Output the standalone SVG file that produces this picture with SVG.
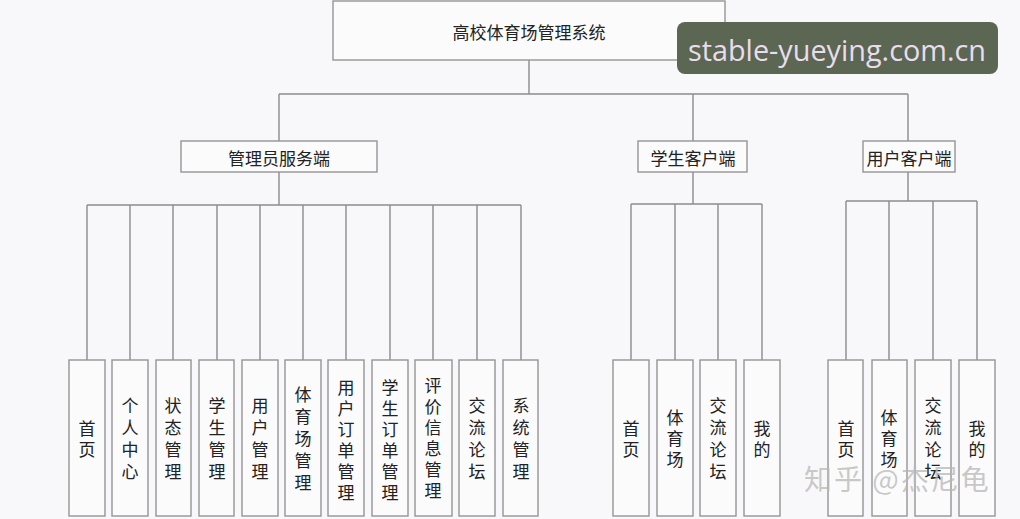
<svg xmlns="http://www.w3.org/2000/svg" width="1020" height="519" viewBox="0 0 1020 519">
<style>
.bg{fill:#f8f8fa}
.box{fill:#fbfbfc;stroke:#959595;stroke-width:1.4}
.ln{stroke:#8c8c8c;stroke-width:1.4;fill:none}
.t{font-family:"Noto Sans CJK SC","Noto Sans",sans-serif;font-size:17px;fill:#222;text-anchor:middle;dominant-baseline:central}
.v{font-family:"Noto Sans CJK SC","Noto Sans",sans-serif;font-size:17px;fill:#222;text-anchor:middle;dominant-baseline:central}
.badge{fill:#5b6753}
.bt{font-family:"Open Sans","Noto Sans",sans-serif;font-size:28.8px;fill:#eadcec}
.wm{font-family:"Noto Sans CJK SC",sans-serif;font-size:28px;letter-spacing:2px;fill:#b8b8b8;fill-opacity:0.75}
</style>
<rect class="bg" x="0" y="0" width="1020" height="519"/>
<g id="connectors">
<path class="ln" d="M529 60V94M279 94H908M279 94V141M693 94V141M908 94V141"/>
<path class="ln" d="M279 172V205M87 205H521M87 205V360M130 205V360M173 205V360M217 205V360M260 205V360M303 205V360M346 205V360M390 205V360M433 205V360M477 205V360M521 205V360"/>
<path class="ln" d="M693 172V204M631 204H762M631 204V360M675 204V360M718 204V360M762 204V360"/>
<path class="ln" d="M908 172V201M846 201H977M846 201V360M889 201V360M933 201V360M977 201V360"/>
</g>
<g id="root"><rect class="box" x="333" y="1" width="392" height="59"/><text class="t" x="529" y="31">高校体育场管理系统</text></g>
<g id="admin"><rect class="box" x="181" y="141" width="196" height="31"/><text class="t" x="279" y="157">管理员服务端</text></g>
<g id="student"><rect class="box" x="638" y="141" width="109" height="31"/><text class="t" x="693" y="157">学生客户端</text></g>
<g id="user"><rect class="box" x="863" y="141" width="92" height="31"/><text class="t" x="909" y="157">用户客户端</text></g>

<g id="a1"><rect class="box" x="69" y="360" width="36" height="156"/><text class="v"><tspan x="87" y="426.5">首</tspan><tspan x="87" y="448">页</tspan></text></g>
<g id="a2"><rect class="box" x="112" y="360" width="36" height="156"/><text class="v"><tspan x="130" y="404">个</tspan><tspan x="130" y="426">人</tspan><tspan x="130" y="448">中</tspan><tspan x="130" y="470">心</tspan></text></g>
<g id="a3"><rect class="box" x="156" y="360" width="35" height="156"/><text class="v"><tspan x="173" y="404">状</tspan><tspan x="173" y="426">态</tspan><tspan x="173" y="448">管</tspan><tspan x="173" y="470">理</tspan></text></g>
<g id="a4"><rect class="box" x="199" y="360" width="35" height="156"/><text class="v"><tspan x="217" y="404">学</tspan><tspan x="217" y="426">生</tspan><tspan x="217" y="448">管</tspan><tspan x="217" y="470">理</tspan></text></g>
<g id="a5"><rect class="box" x="242" y="360" width="36" height="156"/><text class="v"><tspan x="260" y="404">用</tspan><tspan x="260" y="426">户</tspan><tspan x="260" y="448">管</tspan><tspan x="260" y="470">理</tspan></text></g>
<g id="a6"><rect class="box" x="285" y="360" width="36" height="156"/><text class="v"><tspan x="303" y="393">体</tspan><tspan x="303" y="415">育</tspan><tspan x="303" y="437">场</tspan><tspan x="303" y="459">管</tspan><tspan x="303" y="481">理</tspan></text></g>
<g id="a7"><rect class="box" x="328" y="360" width="36" height="156"/><text class="v"><tspan x="346" y="386">用</tspan><tspan x="346" y="407">户</tspan><tspan x="346" y="428">订</tspan><tspan x="346" y="449">单</tspan><tspan x="346" y="470">管</tspan><tspan x="346" y="491">理</tspan></text></g>
<g id="a8"><rect class="box" x="372" y="360" width="36" height="156"/><text class="v"><tspan x="390" y="386">学</tspan><tspan x="390" y="407">生</tspan><tspan x="390" y="428">订</tspan><tspan x="390" y="449">单</tspan><tspan x="390" y="470">管</tspan><tspan x="390" y="491">理</tspan></text></g>
<g id="a9"><rect class="box" x="415" y="360" width="37" height="156"/><text class="v"><tspan x="433" y="384">评</tspan><tspan x="433" y="405">价</tspan><tspan x="433" y="426">信</tspan><tspan x="433" y="447">息</tspan><tspan x="433" y="468">管</tspan><tspan x="433" y="489">理</tspan></text></g>
<g id="a10"><rect class="box" x="459" y="360" width="36" height="156"/><text class="v"><tspan x="477" y="404">交</tspan><tspan x="477" y="426">流</tspan><tspan x="477" y="448">论</tspan><tspan x="477" y="470">坛</tspan></text></g>
<g id="a11"><rect class="box" x="503" y="360" width="35" height="156"/><text class="v"><tspan x="521" y="404">系</tspan><tspan x="521" y="426">统</tspan><tspan x="521" y="448">管</tspan><tspan x="521" y="470">理</tspan></text></g>

<g id="s1"><rect class="box" x="613" y="360" width="36" height="156"/><text class="v"><tspan x="631" y="426.5">首</tspan><tspan x="631" y="448">页</tspan></text></g>
<g id="s2"><rect class="box" x="657" y="360" width="36" height="156"/><text class="v"><tspan x="675" y="416">体</tspan><tspan x="675" y="437">育</tspan><tspan x="675" y="458">场</tspan></text></g>
<g id="s3"><rect class="box" x="700" y="360" width="36" height="156"/><text class="v"><tspan x="718" y="404">交</tspan><tspan x="718" y="426">流</tspan><tspan x="718" y="448">论</tspan><tspan x="718" y="470">坛</tspan></text></g>
<g id="s4"><rect class="box" x="744" y="360" width="36" height="156"/><text class="v"><tspan x="762" y="426.5">我</tspan><tspan x="762" y="448">的</tspan></text></g>

<g id="u1"><rect class="box" x="828" y="360" width="35" height="156"/><text class="v"><tspan x="846" y="426.5">首</tspan><tspan x="846" y="448">页</tspan></text></g>
<g id="u2"><rect class="box" x="872" y="360" width="35" height="156"/><text class="v"><tspan x="889" y="416">体</tspan><tspan x="889" y="437">育</tspan><tspan x="889" y="458">场</tspan></text></g>
<g id="u3"><rect class="box" x="915" y="360" width="36" height="156"/><text class="v"><tspan x="933" y="404">交</tspan><tspan x="933" y="426">流</tspan><tspan x="933" y="448">论</tspan><tspan x="933" y="470">坛</tspan></text></g>
<g id="u4"><rect class="box" x="959" y="360" width="36" height="156"/><text class="v"><tspan x="977" y="426.5">我</tspan><tspan x="977" y="448">的</tspan></text></g>

<text class="wm" x="804" y="490">知乎 @杰尼龟</text>
<g id="badge"><rect class="badge" x="677" y="22" width="321" height="52" rx="8"/><text class="bt" x="688" y="61">stable-yueying.com.cn</text></g>
</svg>
